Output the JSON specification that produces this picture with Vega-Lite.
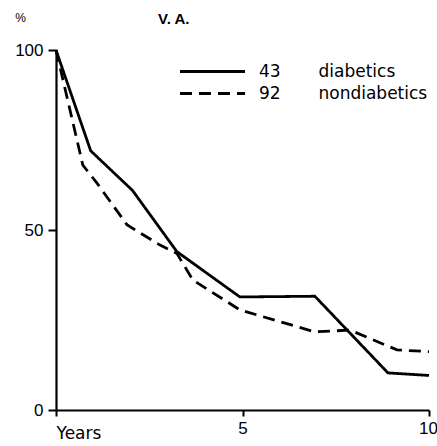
{
  "$schema": "https://vega.github.io/schema/vega-lite/v6.json",
  "width": 373,
  "height": 360,
  "autosize": {"type": "none"},
  "padding": {"left": 56, "top": 50, "right": 8, "bottom": 36},
  "background": "white",
  "title": {"text": "V. A.", "anchor": "start", "frame": "group", "dx": 102, "dy": 20, "fontSize": 15, "fontWeight": "bold", "font": "Liberation Sans", "color": "black"},
  "config": {"view": {"stroke": null}, "font": "Liberation Sans"},
  "data": {"values": [
    {"year": 0, "pct": 100, "group": "diabetics"},
    {"year": 0.93, "pct": 72, "group": "diabetics"},
    {"year": 2.05, "pct": 61, "group": "diabetics"},
    {"year": 3.24, "pct": 44, "group": "diabetics"},
    {"year": 4.93, "pct": 31.4, "group": "diabetics"},
    {"year": 6.94, "pct": 31.6, "group": "diabetics"},
    {"year": 8.9, "pct": 10.3, "group": "diabetics"},
    {"year": 10, "pct": 9.6, "group": "diabetics"},
    {"year": 0, "pct": 100, "group": "nondiabetics"},
    {"year": 0.72, "pct": 68, "group": "nondiabetics"},
    {"year": 1.1, "pct": 63, "group": "nondiabetics"},
    {"year": 1.9, "pct": 51.5, "group": "nondiabetics"},
    {"year": 2.25, "pct": 49.2, "group": "nondiabetics"},
    {"year": 2.79, "pct": 45.8, "group": "nondiabetics"},
    {"year": 3.24, "pct": 43.5, "group": "nondiabetics"},
    {"year": 3.67, "pct": 36.1, "group": "nondiabetics"},
    {"year": 4.93, "pct": 27.8, "group": "nondiabetics"},
    {"year": 6.94, "pct": 21.7, "group": "nondiabetics"},
    {"year": 7.88, "pct": 22.2, "group": "nondiabetics"},
    {"year": 9.14, "pct": 16.7, "group": "nondiabetics"},
    {"year": 10, "pct": 16.2, "group": "nondiabetics"}
  ]},
  "mark": {"type": "line", "color": "black", "strokeWidth": 2.8},
  "encoding": {
    "x": {"field": "year", "type": "quantitative", "scale": {"domain": [0, 10], "nice": false},
      "axis": {"values": [0, 5, 10], "title": null, "grid": false, "domainColor": "black", "domainWidth": 2.2, "tickColor": "black", "tickWidth": 2, "tickSize": 6,
        "labelFontSize": 17, "labelColor": "black", "labelFlush": false,
        "labelFont": {"condition": {"test": "datum.value == 0", "value": "DejaVu Sans"}, "value": "Liberation Sans"},
        "labelExpr": "datum.value == 0 ? 'Years' : datum.label",
        "labelAlign": {"condition": {"test": "datum.value == 0", "value": "left"}, "value": "center"},
        "labelOffset": {"condition": {"test": "datum.value == 10", "value": -1}, "value": 0},
        "labelPadding": {"condition": {"test": "datum.value == 0", "value": 9}, "value": 4}}},
    "y": {"field": "pct", "type": "quantitative", "scale": {"domain": [0, 100], "nice": false},
      "axis": {"values": [0, 50, 100], "title": "%", "titleAngle": 0, "titleX": -36, "titleY": -33, "titleAlign": "center", "titleBaseline": "middle", "titleFontSize": 12, "titleFontWeight": "normal", "titleColor": "black",
        "grid": false, "domainColor": "black", "domainWidth": 2.2, "tickColor": "black", "tickWidth": 2, "tickSize": 8,
        "labelFontSize": 17, "labelColor": "black", "labelPadding": 5, "labelFlush": false}},
    "strokeDash": {"field": "group", "type": "nominal",
      "scale": {"domain": ["diabetics", "nondiabetics"], "range": [[1, 0], [12, 7]]},
      "legend": {"title": null, "orient": "none", "legendX": 144, "legendY": 9, "symbolType": "M-3,0H3", "symbolSize": 470, "symbolStrokeWidth": 2.8, "symbolStrokeColor": "black", "symbolFillColor": "transparent",
        "labelFont": "DejaVu Sans", "labelFontSize": 17, "labelColor": "black", "labelOffset": 34, "rowPadding": 1, "labelLimit": 400,
        "labelExpr": "datum.label == 'diabetics' ? '43\u00a0\u00a0\u00a0\u00a0\u00a0\u00a0\u00a0diabetics' : '92\u00a0\u00a0\u00a0\u00a0\u00a0\u00a0\u00a0nondiabetics'"}}
  }
}
